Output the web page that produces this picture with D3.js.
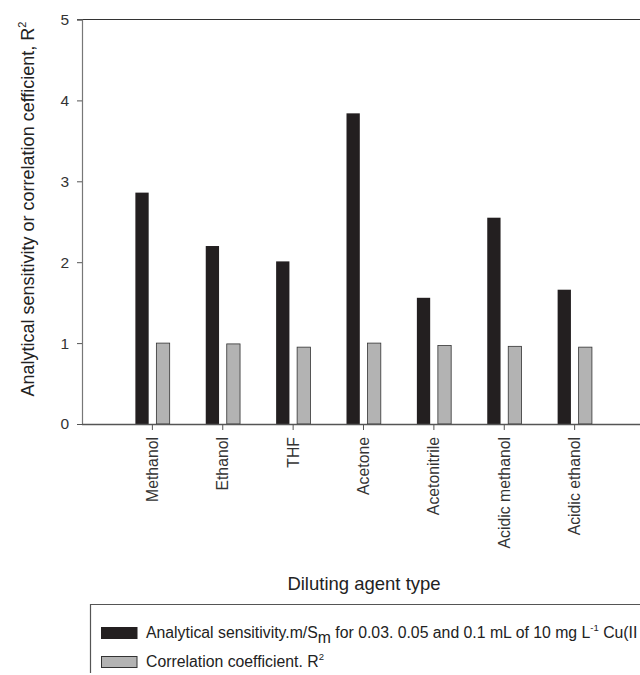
<!DOCTYPE html>
<html>
<head>
<meta charset="utf-8">
<script src="https://cdn.jsdelivr.net/npm/d3@7"></script>
<style>
  html, body { margin: 0; padding: 0; background: #fff; }
  svg { display: block; font-family: "Liberation Sans", Arial, sans-serif; }
</style>
</head>
<body>
<svg id="chart" width="640" height="675"></svg>
<script>
const categories = ["Methanol", "Ethanol", "THF", "Acetone", "Acetonitrile", "Acidic methanol", "Acidic ethanol"];
const sensitivity = [2.86, 2.20, 2.01, 3.84, 1.56, 2.55, 1.66];
const correlation = [1.00, 0.99, 0.95, 1.00, 0.97, 0.96, 0.95];
const yTicks = [0, 1, 2, 3, 4, 5];

const svg = d3.select("#chart");
const mLeft = 82, mBottom = 424, mTop = 19.5, mRight = 645;

const x = d3.scaleBand().domain(categories).range([mLeft, mRight]).paddingInner(0).paddingOuter(0.5);
const y = d3.scaleLinear().domain([0, 5]).range([mBottom, mTop]);

// top frame line
svg.append("line").attr("x1", mLeft - 5).attr("x2", 640).attr("y1", mTop).attr("y2", mTop)
  .attr("stroke", "#333").attr("stroke-width", 1.2);

// bars
const g = svg.append("g");
g.selectAll("rect.sens").data(categories).enter().append("rect")
  .attr("class", "sens")
  .attr("x", d => x(d) + x.bandwidth() / 2 - 17)
  .attr("width", 13.3)
  .attr("y", (d, i) => y(sensitivity[i]))
  .attr("height", (d, i) => y(0) - y(sensitivity[i]))
  .attr("fill", "#231f20");
g.selectAll("rect.corr").data(categories).enter().append("rect")
  .attr("class", "corr")
  .attr("x", d => x(d) + x.bandwidth() / 2 + 4)
  .attr("width", 13.3)
  .attr("y", (d, i) => y(correlation[i]))
  .attr("height", (d, i) => y(0) - y(correlation[i]))
  .attr("fill", "#b3b3b3").attr("stroke", "#333").attr("stroke-width", 0.8);

// y axis
const yAxis = svg.append("g").attr("transform", `translate(${mLeft},0)`)
  .call(d3.axisLeft(y).tickValues(yTicks).tickFormat(d3.format("d")).tickSize(5).tickPadding(8));
yAxis.select(".domain").attr("stroke", "#777").attr("stroke-width", 1.2);
yAxis.selectAll(".tick line").attr("stroke", "#555");
yAxis.selectAll("text").attr("font-size", "15.5px").attr("fill", "#333")
  .attr("font-family", "'Liberation Sans', Arial, sans-serif");

// x axis
const xAxis = svg.append("g").attr("transform", `translate(0,${mBottom})`)
  .call(d3.axisBottom(x).tickSize(6).tickPadding(7).tickSizeOuter(0));
xAxis.select(".domain").attr("d", `M${mLeft},0.5H640`).attr("stroke", "#555").attr("stroke-width", 1.3);
xAxis.selectAll(".tick line").attr("stroke", "#555");
xAxis.selectAll("text")
  .attr("font-size", "15.8px").attr("fill", "#333")
  .attr("font-family", "'Liberation Sans', Arial, sans-serif")
  .attr("text-anchor", "end")
  .attr("transform", "rotate(-90)")
  .attr("x", -13).attr("y", 0).attr("dy", "0.35em");

// y axis title
const yt = svg.append("text")
  .attr("transform", "translate(34,209) rotate(-90)")
  .attr("text-anchor", "middle")
  .attr("font-size", "18px").attr("fill", "#222");
yt.append("tspan").text("Analytical sensitivity or correlation cefficient, R");
yt.append("tspan").attr("font-size", "11px").attr("dy", "-8").text("2");

// x axis title
svg.append("text").attr("x", 364).attr("y", 590).attr("text-anchor", "middle")
  .attr("font-size", "18.5px").attr("fill", "#222").text("Diluting agent type");

// legend box
svg.append("path").attr("d", "M90.5,673V604.5H640")
  .attr("fill", "none").attr("stroke", "#555").attr("stroke-width", 1.2);

svg.append("rect").attr("x", 101).attr("y", 627).attr("width", 36.5).attr("height", 12).attr("fill", "#231f20");
svg.append("rect").attr("x", 101.5).attr("y", 656.5).attr("width", 35.5).attr("height", 11)
  .attr("fill", "#b3b3b3").attr("stroke", "#333").attr("stroke-width", 1);

const l1 = svg.append("text").attr("x", 146).attr("y", 638).attr("font-size", "15.8px").attr("fill", "#222");
l1.append("tspan").text("Analytical sensitivity.m/S");
l1.append("tspan").attr("dy", "5").text("m");
l1.append("tspan").attr("dy", "-5").text(" for 0.03. 0.05 and 0.1 mL of 10 mg L");
l1.append("tspan").attr("font-size", "9.5px").attr("dy", "-7").text("-1");
l1.append("tspan").attr("dy", "7").text(" Cu(II");

const l2 = svg.append("text").attr("x", 146).attr("y", 667).attr("font-size", "15.8px").attr("fill", "#222");
l2.append("tspan").text("Correlation coefficient. R");
l2.append("tspan").attr("font-size", "9.5px").attr("dy", "-7").text("2");
</script>
</body>
</html>
